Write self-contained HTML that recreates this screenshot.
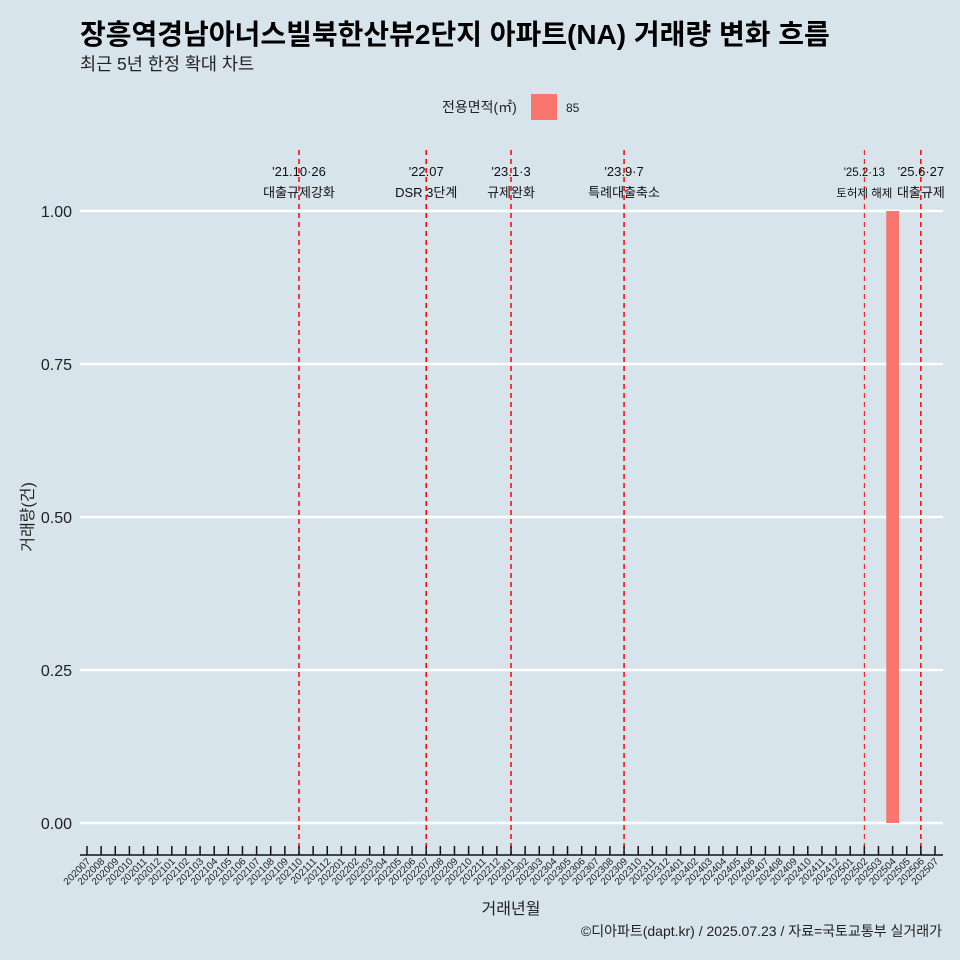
<!DOCTYPE html>
<html><head><meta charset="utf-8">
<style>
html,body{margin:0;background:#d7e4eb;overflow:hidden;width:960px;height:960px;}
svg{display:block;}
svg text{font-family:"Liberation Sans","Noto Sans CJK KR",sans-serif;}
</style></head>
<body>
<svg id="chart" width="960" height="960" xmlns="http://www.w3.org/2000/svg">
<rect width="960" height="960" fill="#d7e4eb"/>
<text x="80" y="44" font-size="28" font-weight="bold" fill="#000">장흥역경남아너스빌북한산뷰2단지 아파트(NA) 거래량 변화 흐름</text>
<text x="80" y="70" font-size="17.5" fill="#222">최근 5년 한정 확대 차트</text>
<g>
<text x="442" y="112" font-size="14" fill="#222">전용면적(㎡)</text>
<rect x="531" y="94" width="26" height="26" fill="#f8766d"/>
<text x="566" y="112" font-size="12" fill="#222">85</text>
</g>
<g id="grid"></g>
<g id="marks"></g>
<g id="events"></g>
<g id="xaxis"></g>
<text transform="translate(33,517) rotate(-90)" text-anchor="middle" font-size="16" fill="#222">거래량(건)</text>
<text x="511" y="914" text-anchor="middle" font-size="16" fill="#222">거래년월</text>
<text x="942" y="936" text-anchor="end" font-size="14" fill="#222">©디아파트(dapt.kr) / 2025.07.23 / 자료=국토교통부 실거래가</text>
</svg>
<script>
const months = [];
for (let y = 2020; y <= 2025; y++) for (let m = 1; m <= 12; m++) {
  const k = y * 100 + m; if (k >= 202007 && k <= 202507) months.push(String(k));
}
const barMonths = ["202504"];
const barValues = [1];
const yTicks = [0, 0.25, 0.5, 0.75, 1.0];
const yTickLabels = ["0.00", "0.25", "0.50", "0.75", "1.00"];
const eventMonths = ["202110", "202207", "202301", "202309", "202502", "202506"];
const eventDates = ["'21.10·26", "'22.07", "'23.1·3", "'23.9·7", "'25.2·13", "'25.6·27"];
const eventNames = ["대출규제강화", "DSR 3단계", "규제완화", "특례대출축소", "토허제 해제", "대출규제"];

const NS = "http://www.w3.org/2000/svg";
const x = m => 87 + months.indexOf(m) * (848 / (months.length - 1));
const y = v => 823 - v * 612;
const step = 848 / (months.length - 1);
function mk(t, a, parent, txt) {
  const e = document.createElementNS(NS, t);
  for (const k in a) e.setAttribute(k, a[k]);
  if (txt !== undefined) e.textContent = txt;
  document.getElementById(parent).appendChild(e);
  return e;
}
yTicks.forEach((v, i) => {
  const l = mk("line", {x1: 80, x2: 943, y1: y(v), y2: y(v), stroke: "#fff", "stroke-width": 2.4}, "grid");
  
  
  const t = mk("text", {x: 72, y: y(v) + 6, "text-anchor": "end", "font-size": 16, fill: "#222"}, "grid", yTickLabels[i]);
  
  
});
barMonths.forEach((m, i) => {
  const r = mk("rect", {x: x(m) - step * 0.45, y: y(barValues[i]), width: step * 0.9, height: y(0) - y(barValues[i]), fill: "#f8766d"}, "marks");
  
  
});
eventMonths.forEach((m, i) => {
  const thin = i === 4;
  const l = mk("line", {x1: x(m), x2: x(m), y1: 150, y2: 855, stroke: "red", "stroke-width": thin ? 1 : 1.5, "stroke-dasharray": "5,4"}, "events");
  
  
  const fs = thin ? 11.5 : 13;
  const t1 = mk("text", {x: x(m), y: 176, "text-anchor": "middle", "font-size": fs, fill: "#111"}, "events", eventDates[i]);
  
  
  const t2 = mk("text", {x: x(m), y: 197, "text-anchor": "middle", "font-size": fs, fill: "#111"}, "events", eventNames[i]);
  
  
});
const ax = mk("line", {x1: 80, x2: 943, y1: 855, y2: 855, stroke: "#111", "stroke-width": 1.5}, "xaxis");


months.forEach(m => {
  const tk = mk("line", {x1: x(m), x2: x(m), y1: 846, y2: 855, stroke: "#111", "stroke-width": 1.5}, "xaxis");
  
  
  const t = mk("text", {transform: `translate(${x(m) + 4},862) rotate(-45)`, "text-anchor": "end", "font-size": 10, fill: "#222"}, "xaxis", m);
  
  
});
</script>
</body></html>
